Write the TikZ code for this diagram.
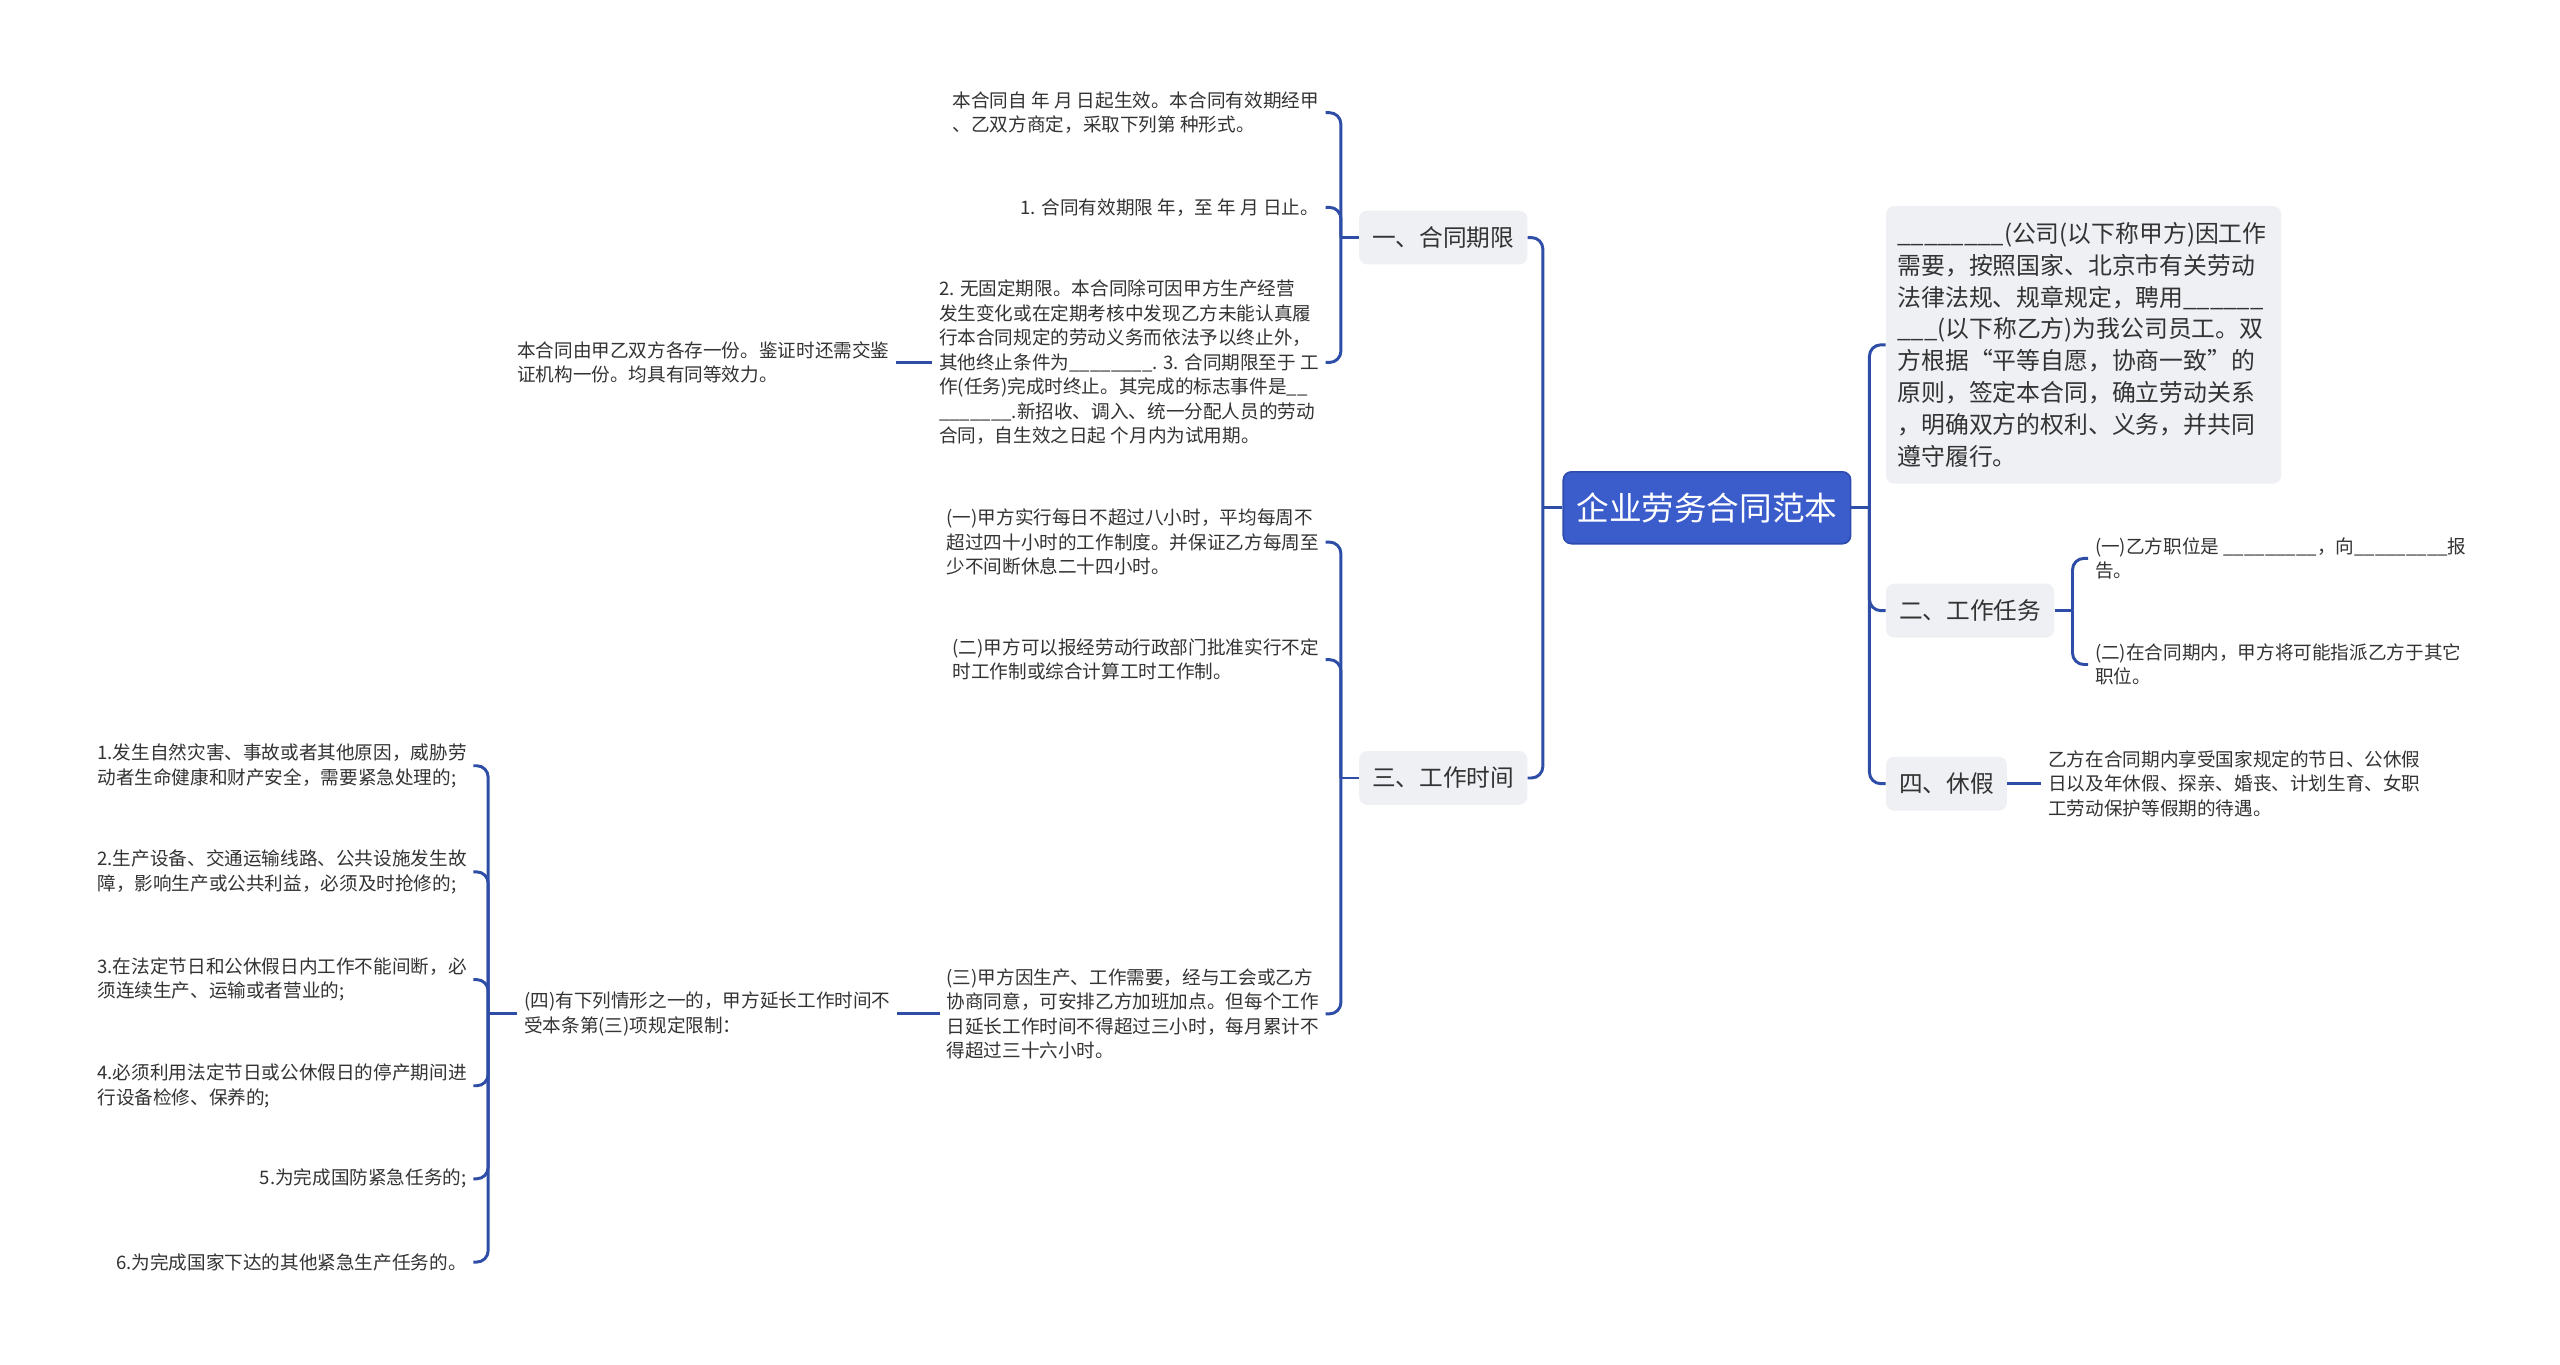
\documentclass[tikz,border=0pt]{standalone}
\usepackage{fontspec}
\setmainfont{Noto Sans CJK SC}
\usepackage{xcolor}
\usepackage{tikz}
\usetikzlibrary{positioning, calc}

\definecolor{linkblue}{HTML}{2E4DA7}
\definecolor{rootblue}{HTML}{3B5CCB}
\definecolor{rootedge}{HTML}{2E4BAE}
\definecolor{boxgray}{HTML}{EEF0F4}
\definecolor{inktext}{HTML}{333333}

\begin{document}
\begin{tikzpicture}[x=1pt, y=-1pt,
  link/.style={draw=linkblue, line width=1.8pt},
  elbow/.style={link, rounded corners=7pt},
  rootbox/.style={draw=rootedge, line width=1pt, fill=rootblue, rounded corners=5pt, minimum height=44pt, inner xsep=8pt, text=white, font=\fontsize{20}{24}\selectfont},
  topic/.style={fill=boxgray, rounded corners=5pt, minimum height=33pt, inner xsep=8pt, text=inktext, font=\fontsize{14.5}{19}\selectfont},
  panel/.style={fill=boxgray, rounded corners=5pt, minimum height=170pt, text width=228pt, inner xsep=7pt, align=left, text=inktext, font=\fontsize{14.6}{19.5}\selectfont},
  leaf/.style={align=left, inner sep=4pt, text=inktext, font=\fontsize{11.4}{15}\selectfont},
  ]
  \path[fill=white] (0,0) rectangle (1568,836);
  \useasboundingbox (0,0) rectangle (1568,836);

  % Root and main topics
  \node[rootbox] (root) at (1045.5,311) {企业劳务合同范本};
  \node[topic] (term) at (884,145.5) {一、合同期限};
  \node[topic] (hours) at (884,476.5) {三、工作时间};
  \node[panel, anchor=north west] (intro) at (1155,126) {\_\_\_\_\_\_\_\_(公司(以下称甲方)因工作\\需要，按照国家、北京市有关劳动\\法律法规、规章规定，聘用\_\_\_\_\_\_\\\_\_\_(以下称乙方)为我公司员工。双\\方根据“平等自愿，协商一致”的\\原则，签定本合同，确立劳动关系\\，明确双方的权利、义务，并共同\\遵守履行。};
  \node[topic, anchor=west] (task) at (1155,374) {二、工作任务};
  \node[topic, anchor=west] (leave) at (1155,480) {四、休假};

  % Contract term
  \node[leaf, anchor=east] (t1) at (812,69) {本合同自 年 月 日起生效。本合同有效期经甲\\、乙双方商定，采取下列第 种形式。};
  \node[leaf, anchor=east] (t2) at (812,127) {1. 合同有效期限 年，至 年 月 日止。};
  \node[leaf, anchor=east] (t3) at (812,222) {2. 无固定期限。本合同除可因甲方生产经营\\发生变化或在定期考核中发现乙方未能认真履\\行本合同规定的劳动义务而依法予以终止外，\\其他终止条件为\_\_\_\_\_\_\_\_. 3. 合同期限至于 工\\作(任务)完成时终止。其完成的标志事件是\_\_\\\_\_\_\_\_\_\_.新招收、调入、统一分配人员的劳动\\合同，自生效之日起 个月内为试用期。};
  \node[leaf, left=22pt of t3] (keep) {本合同由甲乙双方各存一份。鉴证时还需交鉴\\证机构一份。均具有同等效力。};

  % Working hours
  \node[leaf, anchor=east] (h1) at (812,332) {(一)甲方实行每日不超过八小时，平均每周不\\超过四十小时的工作制度。并保证乙方每周至\\少不间断休息二十四小时。};
  \node[leaf, anchor=east] (h2) at (812,404) {(二)甲方可以报经劳动行政部门批准实行不定\\时工作制或综合计算工时工作制。};
  \node[leaf, anchor=east] (h3) at (812,621) {(三)甲方因生产、工作需要，经与工会或乙方\\协商同意，可安排乙方加班加点。但每个工作\\日延长工作时间不得超过三小时，每月累计不\\得超过三十六小时。};
  \node[leaf, left=26pt of h3] (extra) {(四)有下列情形之一的，甲方延长工作时间不\\受本条第(三)项规定限制：};

  % Exceptions
  \node[leaf, anchor=east] (e1) at (290,469) {1.发生自然灾害、事故或者其他原因，威胁劳\\动者生命健康和财产安全，需要紧急处理的;};
  \node[leaf, anchor=east] (e2) at (290,534) {2.生产设备、交通运输线路、公共设施发生故\\障，影响生产或公共利益，必须及时抢修的;};
  \node[leaf, anchor=east] (e3) at (290,600) {3.在法定节日和公休假日内工作不能间断，必\\须连续生产、运输或者营业的;};
  \node[leaf, anchor=east] (e4) at (290,665) {4.必须利用法定节日或公休假日的停产期间进\\行设备检修、保养的;};
  \node[leaf, anchor=east] (e5) at (290,722) {5.为完成国防紧急任务的;};
  \node[leaf, anchor=east] (e6) at (290,773) {6.为完成国家下达的其他紧急生产任务的。};

  % Tasks and leave
  \node[leaf, anchor=west] (k1) at (1279,342) {(一)乙方职位是 \_\_\_\_\_\_\_\_\_，向\_\_\_\_\_\_\_\_\_报\\告。};
  \node[leaf, anchor=west] (k2) at (1279,407) {(二)在合同期内，甲方将可能指派乙方于其它\\职位。};
  \node[leaf, right=21pt of leave] (lv) {乙方在合同期内享受国家规定的节日、公休假\\日以及年休假、探亲、婚丧、计划生育、女职\\工劳动保护等假期的待遇。};

  % Bars
  \coordinate (lbar) at ($(root.west)+(-12,0)$);
  \coordinate (rbar) at ($(root.east)+(11,0)$);
  \coordinate (tbar) at ($(term.west)+(-11,0)$);
  \coordinate (hbar) at ($(hours.west)+(-11,0)$);
  \coordinate (ebar) at ($(e1.east|-extra.west)+(9,0)$);
  \coordinate (kbar) at ($(task.east)+(11,0)$);

  % Connectors
  \draw[link] (root.west) -- (lbar);
  \draw[elbow] (lbar) |- (term.east);
  \draw[elbow] (lbar) |- (hours.east);
  \draw[link] (root.east) -- (rbar);
  \draw[elbow] (rbar) |- (intro.west);
  \draw[elbow] (rbar) |- (task.west);
  \draw[elbow] (rbar) |- (leave.west);

  \draw[link] (term.west) -- (tbar);
  \foreach \n in {t1,t2,t3} \draw[elbow] (tbar) |- (\n.east);
  \draw[link] (t3.west) -- (keep.east);

  \draw[link] (hours.west) -- (hbar);
  \foreach \n in {h1,h2,h3} \draw[elbow] (hbar) |- (\n.east);
  \draw[link] (h3.west) -- (extra.east);

  \draw[link] (extra.west) -- (ebar);
  \foreach \n in {e1,e2,e3,e4,e5,e6} \draw[elbow] (ebar) |- (\n.east);

  \draw[link] (task.east) -- (kbar);
  \foreach \n in {k1,k2} \draw[elbow] (kbar) |- (\n.west);
  \draw[link] (leave.east) -- (lv.west);
\end{tikzpicture}
\end{document}
